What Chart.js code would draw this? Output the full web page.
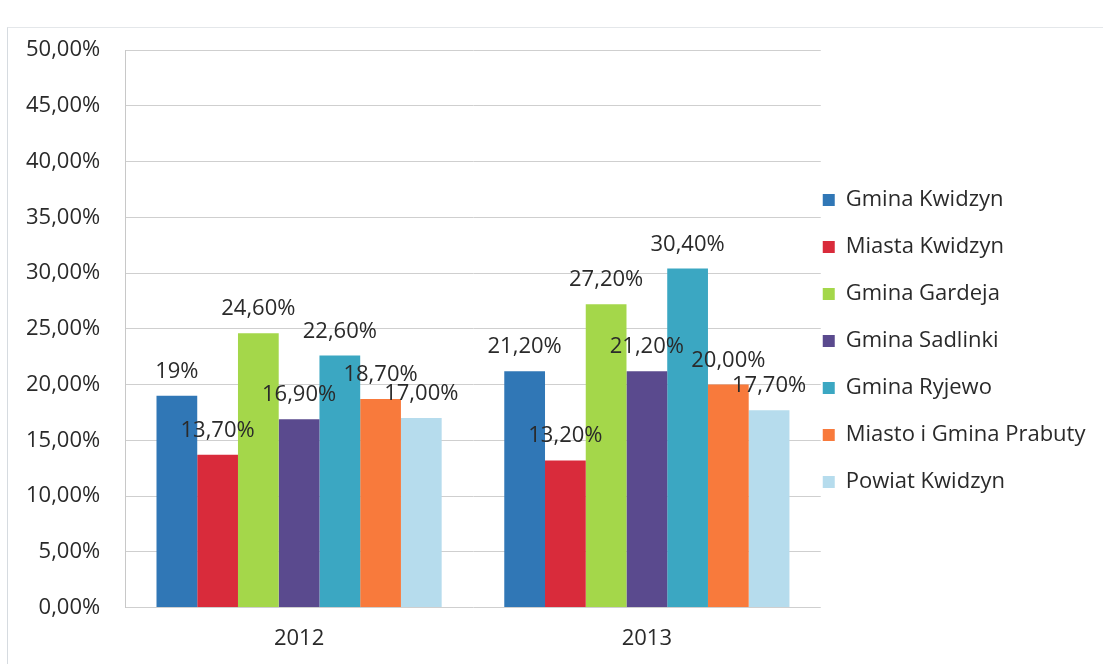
<!DOCTYPE html>
<html>
<head>
<meta charset="utf-8">
<script src="https://cdn.jsdelivr.net/npm/chart.js@4/dist/chart.umd.min.js"></script>
<style>
  html, body { margin: 0; padding: 0; background: #fff; }
  #frame {
    position: absolute; left: 7px; top: 27px; width: 1110px; height: 650px;
    border-left: 1px solid #d6dbe0; border-top: 1px solid #e4e7ea;
  }
  #wrap { position: absolute; left: 0; top: 0; width: 1103px; height: 664px; }
</style>
</head>
<body>
<div id="frame"></div>
<div id="wrap"><canvas id="chart"></canvas></div>
<script>
const years = ["2012", "2013"];
const seriesNames = ["Gmina Kwidzyn", "Miasta Kwidzyn", "Gmina Gardeja", "Gmina Sadlinki",
  "Gmina Ryjewo", "Miasto i Gmina Prabuty", "Powiat Kwidzyn"];
const seriesColors = ["#3077b6", "#d92b3b", "#a4d74a", "#5a4a8e", "#3ba7c2", "#f87a3c", "#b6dced"];
// percent values per series: [2012, 2013]
const gminaKwidzyn = [19.0, 21.2];
const miastaKwidzyn = [13.7, 13.2];
const gminaGardeja = [24.6, 27.2];
const gminaSadlinki = [16.9, 21.2];
const gminaRyjewo = [22.6, 30.4];
const prabuty = [18.7, 20.0];
const powiatKwidzyn = [17.0, 17.7];
// labels as printed on the chart
const gminaKwidzynLabels = ["19%", "21,20%"];
const miastaKwidzynLabels = ["13,70%", "13,20%"];
const gminaGardejaLabels = ["24,60%", "27,20%"];
const gminaSadlinkiLabels = ["16,90%", "21,20%"];
const gminaRyjewoLabels = ["22,60%", "30,40%"];
const prabutyLabels = ["18,70%", "20,00%"];
const powiatKwidzynLabels = ["17,00%", "17,70%"];

const allValues = [gminaKwidzyn, miastaKwidzyn, gminaGardeja, gminaSadlinki, gminaRyjewo, prabuty, powiatKwidzyn];
const allLabels = [gminaKwidzynLabels, miastaKwidzynLabels, gminaGardejaLabels, gminaSadlinkiLabels,
  gminaRyjewoLabels, prabutyLabels, powiatKwidzynLabels];

const FONT = "'Open Sans'";
const FONT_SIZE = 22;
const TEXT = "#2a2a2a";

let datasets = [];
seriesNames.forEach(function (name, i) {
  datasets.push({
    label: name,
    data: allValues[i],
    valueLabels: allLabels[i],
    backgroundColor: seriesColors[i],
    borderWidth: 0,
    categoryPercentage: 0.82,
    barPercentage: 1.0,
  });
});

// draw the value text above each bar
const barLabels = {
  id: "barLabels",
  afterDatasetsDraw(chart) {
    const ctx = chart.ctx;
    ctx.save();
    ctx.font = FONT_SIZE + "px " + FONT;
    ctx.fillStyle = TEXT;
    ctx.textAlign = "center";
    ctx.textBaseline = "alphabetic";
    chart.data.datasets.forEach(function (ds, di) {
      chart.getDatasetMeta(di).data.forEach(function (bar, idx) {
        ctx.fillText(ds.valueLabels[idx], bar.x, bar.y - 18);
      });
    });
    ctx.restore();
  },
};

// pull the legend closer to the plot and a bit up
const legendShift = {
  id: "legendShift",
  afterLayout(chart) {
    chart.legend.left -= 23;
    chart.legend.top -= 30;
  },
};

new Chart(document.getElementById("chart"), {
  type: "bar",
  data: { labels: years, datasets: datasets },
  plugins: [barLabels, legendShift],
  options: {
    responsive: true,
    maintainAspectRatio: false,
    animation: false,
    layout: { padding: { left: 1, top: 50, right: 9, bottom: 2 } },
    plugins: {
      tooltip: { enabled: false },
      legend: {
        position: "right",
        align: "center",
        labels: {
          font: { family: FONT, size: FONT_SIZE },
          color: TEXT,
          boxWidth: 12,
          boxHeight: 12,
          padding: 25,
        },
      },
    },
    scales: {
      y: {
        min: 0,
        max: 50,
        border: { display: true, color: "#c8c8c8" },
        grid: { color: "#cfcfcf", drawTicks: false },
        ticks: {
          stepSize: 5,
          padding: 25,
          color: TEXT,
          font: { family: FONT, size: FONT_SIZE },
          callback: function (value) {
            return value.toFixed(2).replace(".", ",") + "%";
          },
        },
      },
      x: {
        border: { display: false },
        grid: { display: false },
        ticks: {
          padding: 10,
          color: TEXT,
          font: { family: FONT, size: FONT_SIZE },
        },
      },
    },
  },
});
</script>
</body>
</html>
